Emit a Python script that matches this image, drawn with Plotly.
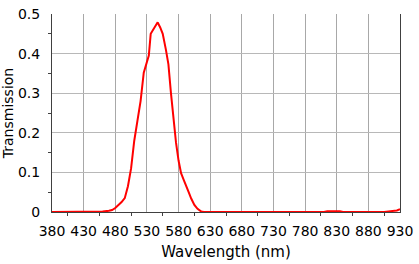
import plotly.graph_objects as go

wavelength = [380, 450, 460, 470, 475, 480, 485, 490, 495, 500, 505, 510, 515, 520, 525,
              530, 533, 536, 540, 544, 547, 551, 555, 560, 564, 568, 572, 576, 580, 584,
              588, 592, 596, 600, 605, 610, 616, 620, 810, 815, 835, 840, 905, 915, 925, 930]
transmission = [0, 0, 0.001, 0.003, 0.005, 0.01, 0.017, 0.025, 0.035, 0.065, 0.11, 0.18, 0.23,
                0.28, 0.352, 0.38, 0.395, 0.45, 0.462, 0.47, 0.479, 0.466, 0.45, 0.41, 0.373,
                0.30, 0.23, 0.175, 0.13, 0.098, 0.082, 0.068, 0.05, 0.034, 0.018, 0.008, 0.001,
                0, 0, 0.002, 0.002, 0, 0, 0.002, 0.004, 0.007]

x_ticks = list(range(380, 931, 50))
y_ticks = [0, 0.1, 0.2, 0.3, 0.4, 0.5]
y_labels = ["0", "0.1", "0.2", "0.3", "0.4", "0.5"]

fig = go.Figure()
fig.add_trace(go.Scatter(x=wavelength, y=transmission, mode="lines",
                         line=dict(color="#ff0000", width=2)))

font = dict(family="DejaVu Sans, Verdana, sans-serif", size=14, color="#000000")

fig.update_layout(
    width=419, height=264,
    margin=dict(l=52, r=13, t=6, b=52),
    paper_bgcolor="white", plot_bgcolor="white",
    showlegend=False,
    font=font,
    xaxis=dict(
        range=[380, 930], tickvals=x_ticks, ticktext=[str(v) for v in x_ticks],
        showgrid=True, gridcolor="#a8a8a8", gridwidth=1,
        showline=True, linecolor="#404040", linewidth=1,
        ticks="", ticklen=0, ticklabelstandoff=6, ticklabeloverflow="allow",
        minor=dict(tickvals=list(range(405, 930, 50)), ticks="outside", ticklen=3,
                   tickcolor="#404040", showgrid=False),
        title=dict(text="Wavelength (nm)", font=dict(size=15), standoff=8),
        tickfont=font, zeroline=False, fixedrange=True,
    ),
    yaxis=dict(
        range=[0, 0.5], tickvals=y_ticks, ticktext=y_labels,
        showgrid=True, gridcolor="#b8b8b8", gridwidth=1,
        showline=True, linecolor="#404040", linewidth=1, mirror=True,
        ticks="", ticklen=0, ticklabelstandoff=8, ticklabeloverflow="allow",
        minor=dict(tickvals=[0.05, 0.15, 0.25, 0.35, 0.45], ticks="outside", ticklen=3,
                   tickcolor="#404040", showgrid=False),
        title=dict(text="Transmission", font=dict(size=14), standoff=2),
        tickfont=font, zeroline=False, fixedrange=True,
    ),
)

fig.write_html("out.html")
